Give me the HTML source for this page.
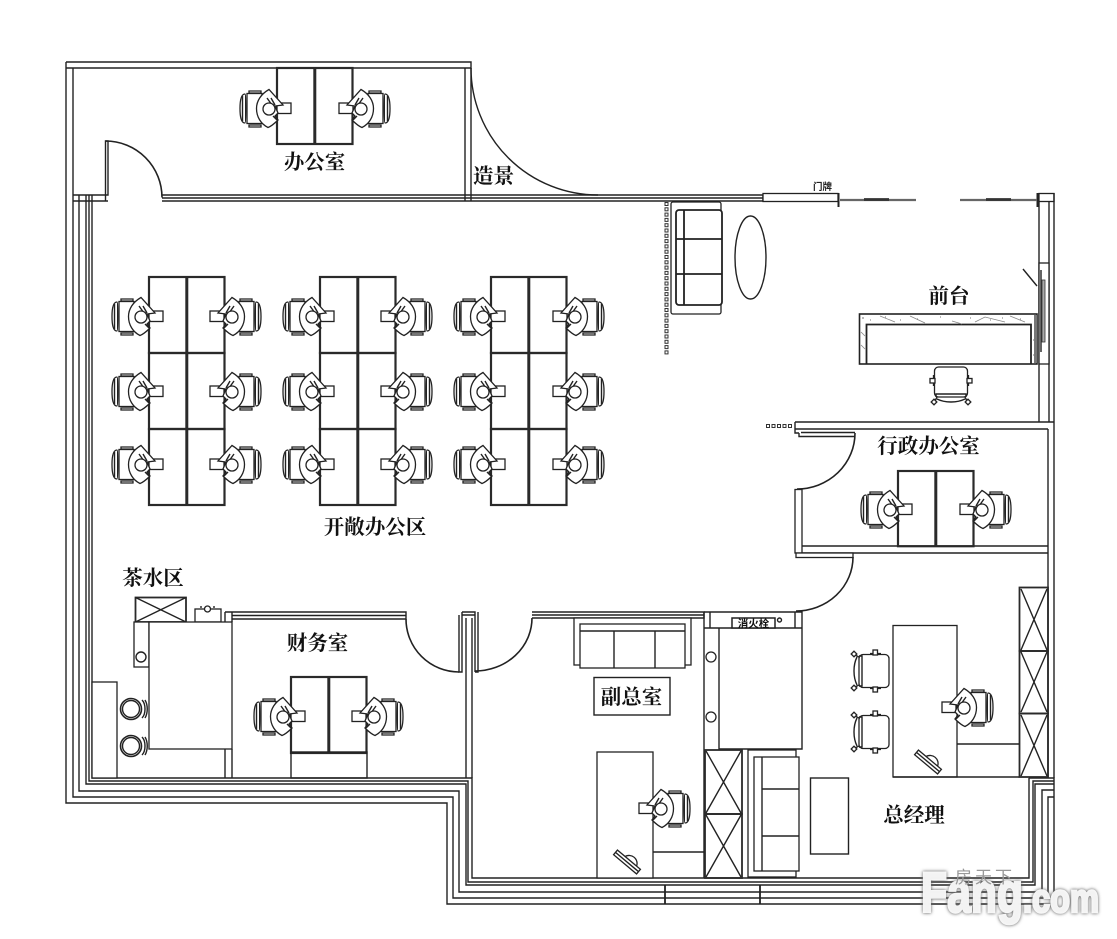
<!DOCTYPE html>
<html lang="zh">
<head>
<meta charset="utf-8">
<style>
html,body{margin:0;padding:0;background:#fff;width:1117px;height:939px;overflow:hidden}
svg{display:block}
.l{fill:none;stroke:#222;stroke-width:1.4}
.m{fill:none;stroke:#222;stroke-width:1.6}
.t{fill:none;stroke:#2a2a2a;stroke-width:2.2}
.f{fill:#fff;stroke:#222;stroke-width:1.3}
.lab{font-family:"Noto Serif CJK SC","Liberation Serif",serif;font-weight:700;font-size:20.5px;fill:#111;text-anchor:middle}
.sq rect{fill:#fff;stroke:#333;stroke-width:1}
</style>
</head>
<body>
<svg width="1117" height="939" viewBox="0 0 1117 939" xmlns="http://www.w3.org/2000/svg">
<defs>
  <filter id="b" x="-10%" y="-20%" width="120%" height="140%"><feGaussianBlur stdDeviation="1.6"/></filter>
  <g id="p">
    <path class="f" d="M-20-18h12v2h-12zM-20 16h12v2h-12z"/>
    <rect class="f" x="-22" y="-15.500" width="15" height="30"/>
    <path class="f" d="M-24-15C-28-15-29-8-29-.5S-28 14-24 14C-23 14-23-15-24-15Z"/>
    <path class="l" d="M-26.500-13V12"/>
    <rect class="f" x="8" y="-6" width="14" height="10.500"/>
    <path class="f" d="M0-19.500C-8-15-12.500-8-12.500-.5C-12.500 8-8 15-1 18.500C3 17 6 14 9 11L6 7L9 4L6-3L14-4Z"/>
    <path class="l" d="M-2-11L3-4M2-11L6-4M4 7L8 11"/>
    <circle class="f" cx="0" cy="0" r="6"/>
  </g>
  <g id="d2">
    <rect class="t" x="0" y="0" width="75.500" height="76"/>
    <path class="t" d="M37.800 0V76" style="stroke-width:3"/>
  </g>
  <g id="s">
    <rect class="f" x="-14" y="-16.500" width="30" height="33" rx="4"/>
    <path class="l" d="M-14-15H-11V15H-14M-16-14C-20-6-20 6-16 14"/>
    <path class="f" d="M-3-17.500H8M-3 17.500H8"/>
    <rect class="f" x="0" y="-21" width="4.500" height="5"/>
    <rect class="f" x="0" y="16" width="4.500" height="5"/>
    <path class="l" d="M-18-16L-14-14M-18 16L-14 14"/>
    <rect class="f" x="-21" y="-19" width="4" height="4" transform="rotate(45 -19 -17)"/>
    <rect class="f" x="-21" y="15" width="4" height="4" transform="rotate(45 -19 17)"/>
  </g>
  <g id="pad">
    <g transform="rotate(40)">
      <path class="f" d="M-5-3A8 8 0 0 1 10-3"/>
      <rect class="f" x="-15" y="-3" width="30" height="6"/>
      <path class="l" d="M-15 0H15"/>
    </g>
  </g>
</defs>

<!-- Outer walls -->
<path class="l" d="M66 62H471V68H66M66 62V803H447V904H1054V778H1029M73 68V797H453V898H1048V797H1054M79 195V791H459V892H1042V790H1054M86 195V784H466V885H1035V784H1054M89 195V781H468V882H1033V781H1054M92 195V778H472V878H1029V778"/>
<path class="l" d="M665 885V904M760 885V904" style="stroke-width:1.8"/>
<path class="l" d="M73 195H108V141H105.500V201M73 201H108M162 195H471M162 198H471M162 201H471V68M465 68V201M471 195H763V201H471M471 198H763"/>
<path class="m" d="M105.500 141A56.500 56.500 0 0 1 162 197.500"/>
<path class="l" d="M471 68A127 127 0 0 0 598 195"/>
<!-- Entrance -->
<rect class="f" x="763" y="193.500" width="75" height="8"/>
<path d="M838.500 193V207M1037.500 193V207" stroke="#222" stroke-width="2"/>
<path d="M840 200H916M960 200H1037" stroke="#666" stroke-width="2.200"/>
<path d="M864 199.500H889M986 199.500H1011" stroke="#333" stroke-width="2.800"/>
<rect class="f" x="1039" y="193.500" width="15" height="8"/>
<text x="822.500" y="190" font-family="'Liberation Sans','Noto Sans CJK SC',sans-serif" font-size="9.500" font-weight="700" text-anchor="middle" fill="#222">门牌</text>
<!-- Right walls -->
<path class="l" d="M1039 202V422M1049 202V422M1054 193V429M1048 429V778M1054 429V778"/>
<rect class="f" x="1039" y="263" width="10" height="101"/>
<rect x="1042" y="280" width="3" height="62" fill="#aaa" stroke="#333" stroke-width=".8"/>
<path class="l" d="M1041 270V352M1023 269L1037 286M1023 352L1037 335"/>
<!-- Sofa and table lobby -->
<g class="sq">
<rect x="665" y="202.500" width="3" height="3"/><rect x="665" y="207.800" width="3" height="3"/><rect x="665" y="213.100" width="3" height="3"/><rect x="665" y="218.400" width="3" height="3"/><rect x="665" y="223.700" width="3" height="3"/><rect x="665" y="229" width="3" height="3"/><rect x="665" y="234.300" width="3" height="3"/><rect x="665" y="239.600" width="3" height="3"/><rect x="665" y="244.900" width="3" height="3"/><rect x="665" y="250.200" width="3" height="3"/><rect x="665" y="255.500" width="3" height="3"/><rect x="665" y="260.800" width="3" height="3"/><rect x="665" y="266.100" width="3" height="3"/><rect x="665" y="271.400" width="3" height="3"/><rect x="665" y="276.700" width="3" height="3"/><rect x="665" y="282" width="3" height="3"/><rect x="665" y="287.300" width="3" height="3"/><rect x="665" y="292.600" width="3" height="3"/><rect x="665" y="297.900" width="3" height="3"/><rect x="665" y="303.200" width="3" height="3"/><rect x="665" y="308.500" width="3" height="3"/><rect x="665" y="313.800" width="3" height="3"/><rect x="665" y="319.100" width="3" height="3"/><rect x="665" y="324.400" width="3" height="3"/><rect x="665" y="329.700" width="3" height="3"/><rect x="665" y="335" width="3" height="3"/><rect x="665" y="340.300" width="3" height="3"/><rect x="665" y="345.600" width="3" height="3"/><rect x="665" y="350.900" width="3" height="3"/>
<rect x="766.500" y="424.500" width="3" height="3"/><rect x="772" y="424.500" width="3" height="3"/><rect x="777.500" y="424.500" width="3" height="3"/><rect x="783" y="424.500" width="3" height="3"/><rect x="788.500" y="424.500" width="3" height="3"/>
</g>
<rect class="f" x="671" y="202" width="50" height="112" rx="2"/>
<rect class="f" x="676" y="210" width="46" height="95" rx="3" style="stroke-width:1.8"/>
<path class="m" d="M684 210V305M676 239H722M676 274H722" style="stroke-width:1.800"/>
<ellipse class="l" cx="750.500" cy="257.500" rx="15.500" ry="41.500"/>
<!-- Reception -->
<rect class="m" x="859.500" y="314" width="177.500" height="50" fill="#fff" style="fill:#fff"/>
<path class="m" d="M866.500 364V324.500H1031V364" style="stroke-width:1.800"/>
<path d="M1035.500 315V363" stroke="#777" stroke-width="3"/>
<path d="M880 316L895 322M910 316L925 323M952 321L962 324M975 322L985 317L1005 322M1010 316L1025 322M861 345L865 349M861 332L865 336" stroke="#888" stroke-width=".8" fill="none"/>
<path d="M862 318H864M870 320H871M885 317H886M900 320H901M917 319H918M940 317H941M970 318H971M990 320H991M1002 318H1003M1020 319H1021M1033 340H1034M1033 355H1034" stroke="#777" stroke-width="1"/>
<use href="#s" transform="translate(951 383) rotate(-90)"/>
<!-- Exec office -->
<path class="l" d="M795 422H1054M795 429H1048M795 422V433H799M799 433V436.500H855M801 432.500H855"/>
<path class="m" d="M855 433A58 56 0 0 1 797 489"/>
<rect class="f" x="795" y="489.500" width="7" height="63.500"/>
<path class="l" d="M802 546H1048M802 553H1048"/>
<rect class="f" x="796" y="553" width="57" height="4.500"/>
<path class="m" d="M853 557A57 54 0 0 1 796 611"/>
<use href="#d2" transform="translate(898 471) scale(1 .99)"/>
<use href="#p" transform="translate(890 510)"/>
<use href="#p" transform="translate(982 510) scale(-1 1)"/>
<!-- Office top -->
<use href="#d2" transform="translate(277 68)"/>
<use href="#p" transform="translate(269 109)"/>
<use href="#p" transform="translate(361 109) scale(-1 1)"/>
<!-- Open office -->
<use href="#d2" transform="translate(149 277)"/><use href="#d2" transform="translate(149 353)"/><use href="#d2" transform="translate(149 429)"/>
<use href="#d2" transform="translate(320 277)"/><use href="#d2" transform="translate(320 353)"/><use href="#d2" transform="translate(320 429)"/>
<use href="#d2" transform="translate(491 277)"/><use href="#d2" transform="translate(491 353)"/><use href="#d2" transform="translate(491 429)"/>
<use href="#p" transform="translate(141 317)"/><use href="#p" transform="translate(141 392)"/><use href="#p" transform="translate(141 465)"/>
<use href="#p" transform="translate(232 317) scale(-1 1)"/><use href="#p" transform="translate(232 392) scale(-1 1)"/><use href="#p" transform="translate(232 465) scale(-1 1)"/>
<use href="#p" transform="translate(312 317)"/><use href="#p" transform="translate(312 392)"/><use href="#p" transform="translate(312 465)"/>
<use href="#p" transform="translate(403 317) scale(-1 1)"/><use href="#p" transform="translate(403 392) scale(-1 1)"/><use href="#p" transform="translate(403 465) scale(-1 1)"/>
<use href="#p" transform="translate(483 317)"/><use href="#p" transform="translate(483 392)"/><use href="#p" transform="translate(483 465)"/>
<use href="#p" transform="translate(575 317) scale(-1 1)"/><use href="#p" transform="translate(575 392) scale(-1 1)"/><use href="#p" transform="translate(575 465) scale(-1 1)"/>
<!-- Tea area -->
<rect class="t" x="135.500" y="597.500" width="50.500" height="24.500" style="stroke-width:1.800"/>
<path class="l" d="M135.500 597.500L186 622M186 597.500L135.500 622"/>
<rect class="f" x="195" y="609" width="26" height="13"/>
<circle class="f" cx="207.500" cy="609" r="3"/>
<path class="l" d="M201 606V608M214 606V608"/>
<rect class="f" x="134" y="622" width="15" height="45"/>
<circle class="l" cx="141" cy="657" r="5"/>
<rect class="f" x="149" y="622" width="83" height="127"/>
<rect class="f" x="92" y="682" width="25" height="96"/>
<g class="l"><circle cx="131" cy="709" r="10.500" style="stroke-width:1.600"/><circle cx="131" cy="709" r="8.500"/><circle cx="131" cy="746" r="10.500" style="stroke-width:1.600"/><circle cx="131" cy="746" r="8.500"/>
<path d="M142 700C146 704 146 714 142 718M145 700C148 705 148 713 145 718M142 737C146 741 146 751 142 755M145 737C148 742 148 750 145 755"/></g>
<!-- Finance -->
<path class="l" d="M225 612H406V619H232M232 615.500H406M225 612V622M232 612V622M225 749V778M232 749V778M459 615V672H462V615H475V672M462 612H475V618M478 612V672H475M466 618V778M472 618V778M462 612V618"/>
<path class="m" d="M406 619A53 53 0 0 0 459 672"/>
<use href="#d2" transform="translate(291 677)"/>
<rect class="l" x="291" y="752" width="76" height="26"/>
<use href="#p" transform="translate(283 717)"/>
<use href="#p" transform="translate(374 717) scale(-1 1)"/>
<!-- VP room -->
<path class="l" d="M532 612H704V618H532M532 615H704"/>
<path class="m" d="M532 618A57 53 0 0 1 475 671"/>
<rect class="f" x="574" y="618" width="117" height="47"/>
<rect class="f" x="580" y="624" width="105" height="44"/>
<path class="l" d="M580 631H685M614 631V668M655 631V668"/>
<rect class="l" x="594" y="677.500" width="76" height="37.500"/>
<rect class="f" x="597" y="752" width="56" height="126"/>
<path class="l" d="M653 852H704"/>
<use href="#p" transform="translate(661 809) scale(-1 1)"/>
<use href="#pad" transform="translate(627 862)"/>
<path class="l" d="M704 612V878M710 612V628M704 612H802V628H704M795 612V628M802 612V749H719V628"/>
<circle class="f" cx="711" cy="657" r="5"/>
<circle class="f" cx="711" cy="717" r="5"/>
<rect class="f" x="732" y="618" width="43" height="10" style="stroke-width:1.500"/>
<text x="753.500" y="627" font-family="'Liberation Sans','Noto Sans CJK SC',sans-serif" font-size="10.500" font-weight="700" text-anchor="middle" fill="#111">消火栓</text>
<circle class="l" cx="779.500" cy="620" r="2"/>
<!-- Wardrobes -->
<rect class="t" x="705" y="750" width="37" height="64" style="stroke-width:1.800"/>
<rect class="t" x="705" y="814" width="37" height="64" style="stroke-width:1.800"/>
<path class="l" d="M706 751L741 813M741 751L706 813M706 815L741 877M741 815L706 877"/>
<rect class="t" x="1019.500" y="587.500" width="28.500" height="63.500" style="stroke-width:1.800"/>
<rect class="t" x="1019.500" y="651" width="28.500" height="62.500" style="stroke-width:1.800"/>
<rect class="t" x="1019.500" y="713.500" width="28.500" height="63.500" style="stroke-width:1.800"/>
<path class="l" d="M1021 589L1047 650M1047 589L1021 650M1021 652L1047 712M1047 652L1021 712M1021 715L1047 776M1047 715L1021 776"/>
<!-- GM room -->
<rect class="f" x="748" y="750" width="48" height="127"/>
<rect class="f" x="754" y="757" width="45" height="114"/>
<path class="l" d="M762 757V871M762 789H799M762 836H799"/>
<rect class="l" x="810.500" y="778" width="38" height="76"/>
<rect class="f" x="893" y="625.500" width="64" height="151.500"/>
<path class="l" d="M957 744H1019M893 777H1019"/>
<use href="#s" transform="translate(873 671)"/>
<use href="#s" transform="translate(873 732)"/>
<use href="#p" transform="translate(964 708) scale(-1 1)"/>
<use href="#pad" transform="translate(928 762)"/>
<!-- Labels -->
<text class="lab" x="314.500" y="169">办公室</text>
<text class="lab" x="493.500" y="183">造景</text>
<text class="lab" x="949" y="303">前台</text>
<text class="lab" x="928.500" y="453">行政办公室</text>
<text class="lab" x="375" y="534">开敞办公区</text>
<text class="lab" x="153" y="585">茶水区</text>
<text class="lab" x="317.500" y="650">财务室</text>
<text class="lab" x="631.500" y="704">副总室</text>
<text class="lab" x="914" y="822">总经理</text>
<!-- Watermark -->
<g font-family="'Liberation Sans',sans-serif" font-weight="700">
  <g filter="url(#b)" fill="#666" stroke="#666" stroke-width="3">
    <text x="921" y="912" font-size="57" textLength="102" lengthAdjust="spacingAndGlyphs">Fang</text>
    <text x="1023" y="912" font-size="40" textLength="76" lengthAdjust="spacingAndGlyphs">.com</text>
  </g>
  <g fill="#fff" stroke="#fff" stroke-width="2.500" opacity=".92">
    <text x="921" y="912" font-size="57" textLength="102" lengthAdjust="spacingAndGlyphs">Fang</text>
    <text x="1023" y="912" font-size="40" textLength="76" lengthAdjust="spacingAndGlyphs">.com</text>
  </g>
</g>
<text x="985" y="883" font-family="'Liberation Sans','Noto Sans CJK SC',sans-serif" font-size="17" text-anchor="middle" fill="#999" letter-spacing="3">房天下</text>
</svg>
</body>
</html>
